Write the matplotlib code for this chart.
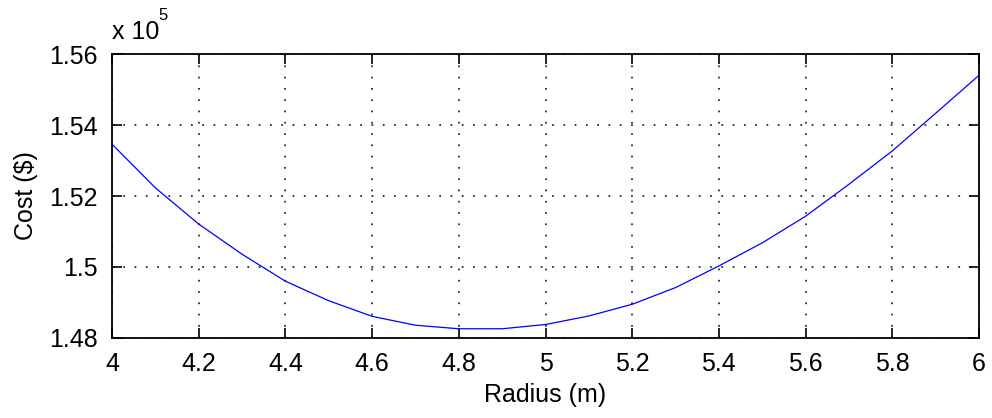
import matplotlib
matplotlib.use("Agg")
import matplotlib.pyplot as plt

# Radius values (m) and cost (in units of 1e5 $)
radius = [4.0, 4.1, 4.2, 4.3, 4.4, 4.5, 4.6, 4.7, 4.8, 4.9, 5.0,
          5.1, 5.2, 5.3, 5.4, 5.5, 5.6, 5.7, 5.8, 5.9, 6.0]
cost = [1.5346, 1.5223, 1.5121, 1.5036, 1.4960, 1.4905, 1.4861, 1.4836,
        1.4826, 1.4826, 1.4838, 1.4862, 1.4895, 1.4942, 1.5003, 1.5068,
        1.5143, 1.5233, 1.5327, 1.5433, 1.5540]

xticks = [4, 4.2, 4.4, 4.6, 4.8, 5, 5.2, 5.4, 5.6, 5.8, 6]
xticklabels = ["4", "4.2", "4.4", "4.6", "4.8", "5", "5.2", "5.4", "5.6", "5.8", "6"]
yticks = [1.48, 1.50, 1.52, 1.54, 1.56]
yticklabels = ["1.48", "1.5", "1.52", "1.54", "1.56"]

plt.rcParams["font.family"] = ["Liberation Sans", "DejaVu Sans"]

fig = plt.figure(figsize=(9.92, 4.18), dpi=100)
ax = fig.add_axes([0.1129, 0.1914, 0.874, 0.6794])

ax.plot(radius, cost, color="#0000ff", lw=0.9)

ax.set_xlim(4, 6)
ax.set_ylim(1.48, 1.56)
ax.set_xticks(xticks)
ax.set_xticklabels(xticklabels)
ax.set_yticks(yticks)
ax.set_yticklabels(yticklabels)

# MATLAB-like dotted grid and inward ticks on all sides
ax.grid(True, color="#222222", linestyle=(0, (1, 5.5)), linewidth=1.25)
ax.tick_params(direction="in", length=7, width=1.2, top=True, right=True,
               labelsize=18, pad=10, colors="black")
for s in ax.spines.values():
    s.set_linewidth(1.3)
    s.set_color("black")

ax.set_xlabel("Radius (m)", fontsize=18, labelpad=5)
ax.set_ylabel("Cost ($)", fontsize=18, labelpad=8)

# exponent label above the axes
ax.text(0.0, 1.035, "x 10", transform=ax.transAxes, fontsize=18,
        ha="left", va="bottom")
ax.text(0.053, 1.11, "5", transform=ax.transAxes, fontsize=12,
        ha="left", va="bottom")

fig.savefig("out.png", dpi=100)
